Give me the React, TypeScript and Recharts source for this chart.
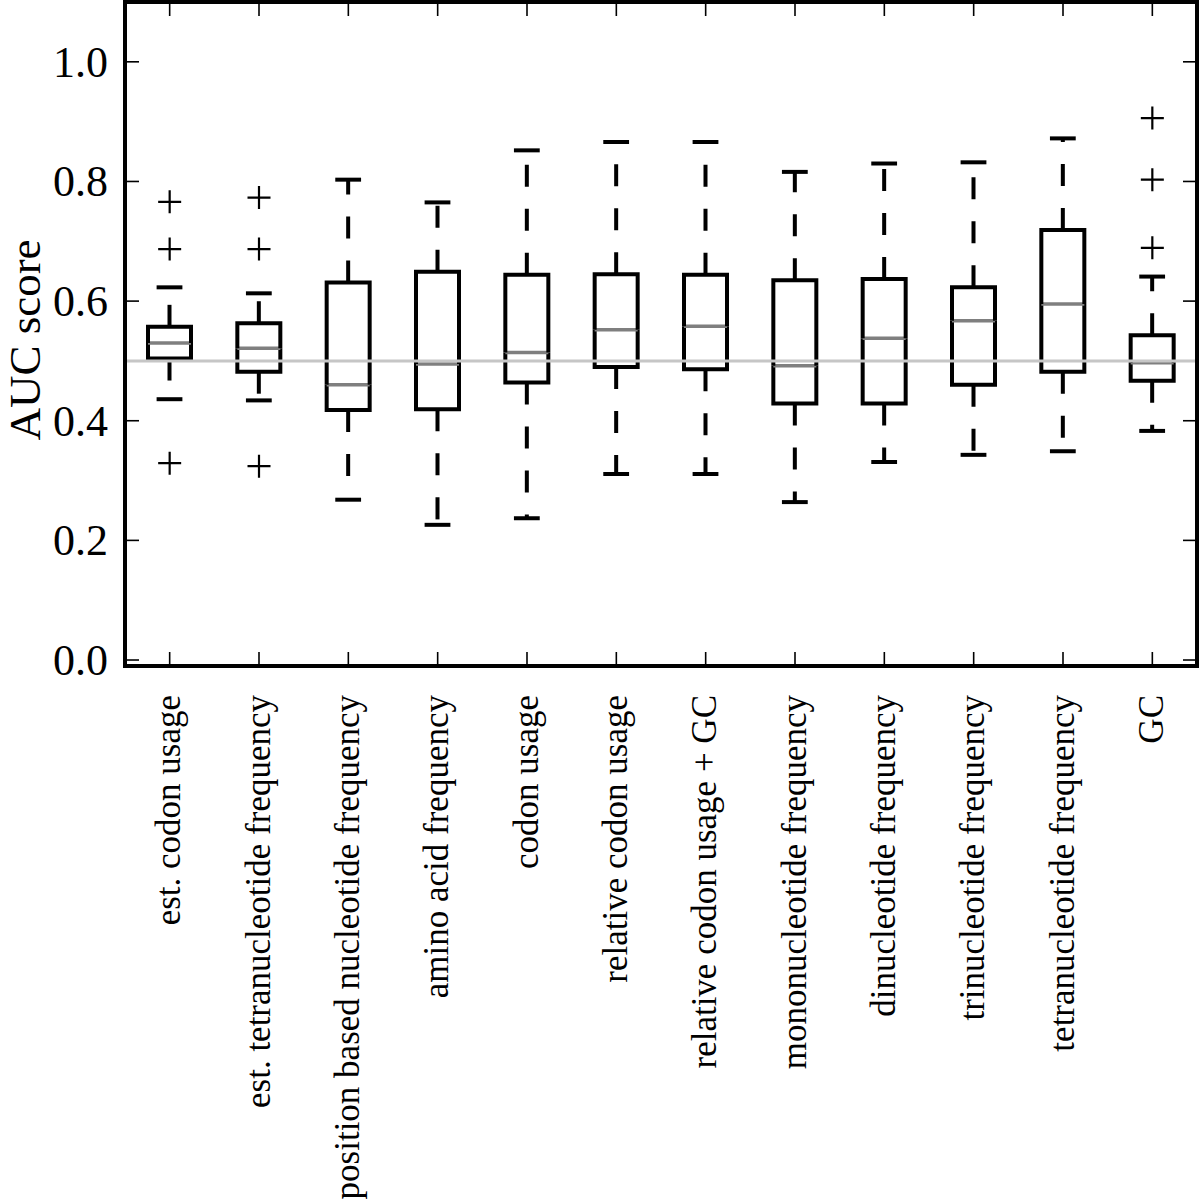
import { ComposedChart, Bar, Scatter, XAxis, YAxis, ReferenceLine } from "recharts";

const categories = [
  "est. codon usage",
  "est. tetranucleotide frequency",
  "position based nucleotide frequency",
  "amino acid frequency",
  "codon usage",
  "relative codon usage",
  "relative codon usage + GC",
  "mononucleotide frequency",
  "dinucleotide frequency",
  "trinucleotide frequency",
  "tetranucleotide frequency",
  "GC",
];

const lowerCap = [0.436, 0.434, 0.268, 0.226, 0.237, 0.311, 0.311, 0.264, 0.331, 0.343, 0.349, 0.383];
const q1 = [0.504, 0.482, 0.418, 0.419, 0.464, 0.49, 0.486, 0.429, 0.429, 0.46, 0.482, 0.467];
const median = [0.53, 0.521, 0.46, 0.495, 0.514, 0.552, 0.558, 0.492, 0.538, 0.567, 0.595, 0.497];
const q3 = [0.557, 0.563, 0.631, 0.649, 0.644, 0.645, 0.644, 0.635, 0.637, 0.623, 0.719, 0.543];
const upperCap = [0.623, 0.613, 0.803, 0.765, 0.852, 0.866, 0.866, 0.816, 0.83, 0.832, 0.872, 0.641];
const outliers: number[][] = [
  [0.766, 0.687, 0.329],
  [0.773, 0.687, 0.324],
  [], [], [], [], [], [], [], [], [],
  [0.906, 0.803, 0.689],
];

const yTicks = [0, 0.2, 0.4, 0.6, 0.8, 1.0];
const chanceLevel = 0.5;

// stacked segments: invisible base, lower whisker, lower half box, upper half box, upper whisker
const rows = categories.map((name, i) => ({
  name,
  base: lowerCap[i],
  lowW: q1[i] - lowerCap[i],
  lowBox: median[i] - q1[i],
  highBox: q3[i] - median[i],
  highW: upperCap[i] - q3[i],
  o0: outliers[i][0] ?? null,
  o1: outliers[i][1] ?? null,
  o2: outliers[i][2] ?? null,
}));

const FONT = "'Liberation Serif', 'Times New Roman', serif";
const LW = 4;
const TICK_LEN = 14;

function LowWhisker(p: any) {
  const { x, y, width, height } = p;
  const cx = x + width / 2;
  const cap = width * 0.3;
  return (
    <g>
      <path d={`M${cx},${y}L${cx},${y + height}`} stroke="#000" strokeWidth={LW} strokeDasharray="22 22" fill="none" />
      <path d={`M${cx - cap},${y + height}L${cx + cap},${y + height}`} stroke="#000" strokeWidth={LW} fill="none" />
    </g>
  );
}

function HighWhisker(p: any) {
  const { x, y, width, height } = p;
  const cx = x + width / 2;
  const cap = width * 0.3;
  return (
    <g>
      <path d={`M${cx},${y + height}L${cx},${y}`} stroke="#000" strokeWidth={LW} strokeDasharray="22 22" fill="none" />
      <path d={`M${cx - cap},${y}L${cx + cap},${y}`} stroke="#000" strokeWidth={LW} fill="none" />
    </g>
  );
}

function LowBox(p: any) {
  const { x, y, width, height } = p;
  return (
    <path
      d={`M${x},${y}L${x},${y + height}L${x + width},${y + height}L${x + width},${y}`}
      stroke="#000" strokeWidth={LW} fill="none" strokeLinejoin="miter"
    />
  );
}

function HighBox(p: any) {
  const { x, y, width, height } = p;
  return (
    <g>
      <path d={`M${x},${y + height}L${x + width},${y + height}`} stroke="#7f7f7f" strokeWidth={3.5} />
      <path
        d={`M${x},${y + height}L${x},${y}L${x + width},${y}L${x + width},${y + height}`}
        stroke="#000" strokeWidth={LW} fill="none" strokeLinejoin="miter"
      />
    </g>
  );
}

function makePlus(key: string) {
  return (p: any) => {
    if (p.payload == null || p.payload[key] == null) return <g />;
    const { cx, cy } = p;
    const h = 11.5;
    return (
      <path d={`M${cx - h},${cy}L${cx + h},${cy}M${cx},${cy - h}L${cx},${cy + h}`} stroke="#000" strokeWidth={2.2} fill="none" />
    );
  };
}

function BottomTick(p: any) {
  const { x, y, payload } = p;
  const ty = y + 29;
  return (
    <g>
      <line x1={x} x2={x} y1={y} y2={y - TICK_LEN} stroke="#000" strokeWidth={1.6} />
      <text
        x={x}
        y={ty}
        dy="0.3em"
        transform={`rotate(-90 ${x} ${ty})`}
        textAnchor="end"
        fontFamily={FONT}
        fontSize={35}
        fill="#000"
      >
        {payload.value}
      </text>
    </g>
  );
}

function TopTick(p: any) {
  const { x, y } = p;
  return <line x1={x} x2={x} y1={y} y2={y + TICK_LEN} stroke="#000" strokeWidth={1.6} />;
}

function LeftTick(p: any) {
  const { x, y, payload } = p;
  return (
    <g>
      <line x1={x} x2={x + TICK_LEN} y1={y} y2={y} stroke="#000" strokeWidth={1.6} />
      <text x={x - 17} y={y} dy="0.34em" textAnchor="end" fontFamily={FONT} fontSize={44} fill="#000">
        {Number(payload.value).toFixed(1)}
      </text>
    </g>
  );
}

function RightTick(p: any) {
  const { x, y } = p;
  return <line x1={x} x2={x - TICK_LEN} y1={y} y2={y} stroke="#000" strokeWidth={1.6} />;
}

const axisLine = { stroke: "#000", strokeWidth: LW, strokeLinecap: "square" as const };

export default function App() {
  return (
    <div style={{ position: "absolute", left: 0, top: 0, width: 1200, height: 1199, background: "#fff" }}>
      <ComposedChart width={1200} height={1199} data={rows} margin={{ top: 0, right: 0, bottom: 0, left: 0 }}>
        <XAxis
          dataKey="name"
          type="category"
          height={533}
          interval={0}
          tickSize={0}
          tickMargin={0}
          tickLine={false}
          axisLine={axisLine}
          tick={(p: any) => <BottomTick {...p} />}
        />
        <XAxis
          xAxisId="top"
          orientation="top"
          dataKey="name"
          type="category"
          height={2}
          interval={0}
          tickSize={0}
          tickMargin={0}
          tickLine={false}
          axisLine={axisLine}
          tick={(p: any) => <TopTick {...p} />}
        />
        <YAxis
          type="number"
          domain={[-0.01, 1.1]}
          allowDataOverflow
          ticks={yTicks}
          width={125}
          tickSize={0}
          tickMargin={0}
          tickLine={false}
          axisLine={axisLine}
          tick={(p: any) => <LeftTick {...p} />}
          label={{
            content: (lp: any) => {
              const vb = lp.viewBox || { x: 0, y: 2, width: 125, height: 664 };
              const cy = vb.y + vb.height / 2 + 6;
              return (
                <text
                  x={40}
                  y={cy}
                  transform={`rotate(-90 40 ${cy})`}
                  textAnchor="middle"
                  fontFamily={FONT}
                  fontSize={45}
                  fill="#000"
                >
                  AUC score
                </text>
              );
            },
          }}
        />
        <YAxis
          yAxisId="right"
          orientation="right"
          type="number"
          domain={[-0.01, 1.1]}
          allowDataOverflow
          ticks={yTicks}
          width={3}
          tickSize={0}
          tickMargin={0}
          tickLine={false}
          axisLine={axisLine}
          tick={(p: any) => <RightTick {...p} />}
        />
        <ReferenceLine xAxisId="top" yAxisId="right" y={chanceLevel} stroke="#c6c6c6" strokeWidth={3} />
        <Bar dataKey="base" stackId="box" barSize={43} shape={() => <g />} isAnimationActive={false} />
        <Bar dataKey="lowW" stackId="box" barSize={43} shape={LowWhisker} isAnimationActive={false} />
        <Bar dataKey="lowBox" stackId="box" barSize={43} shape={LowBox} isAnimationActive={false} />
        <Bar dataKey="highBox" stackId="box" barSize={43} shape={HighBox} isAnimationActive={false} />
        <Bar dataKey="highW" stackId="box" barSize={43} shape={HighWhisker} isAnimationActive={false} />
        <Scatter dataKey="o0" shape={makePlus("o0")} isAnimationActive={false} />
        <Scatter dataKey="o1" shape={makePlus("o1")} isAnimationActive={false} />
        <Scatter dataKey="o2" shape={makePlus("o2")} isAnimationActive={false} />
      </ComposedChart>
    </div>
  );
}
